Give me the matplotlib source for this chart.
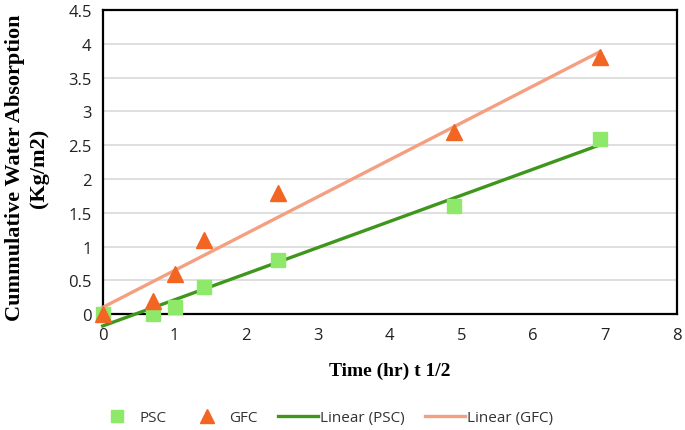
import numpy as np
import matplotlib
matplotlib.use("Agg")
import matplotlib.pyplot as plt
from matplotlib.lines import Line2D

time_sqrt = [0, 0.707, 1.0, 1.414, 2.449, 4.899, 6.928]
psc = [0, 0, 0.1, 0.4, 0.8, 1.6, 2.6]
gfc = [0, 0.2, 0.6, 1.1, 1.8, 2.7, 3.8]
series_names = ["PSC", "GFC", "Linear (PSC)", "Linear (GFC)"]

c_psc = "#8EE86A"
c_gfc = "#F26522"
c_lpsc = "#3F961C"
c_lgfc = "#F4A080"

fig = plt.figure(figsize=(6.85, 4.31), dpi=100)
ax = fig.add_axes([0.150, 0.269, 0.838, 0.705])

x = np.array(time_sqrt)
xs = np.array([x.min(), x.max()])
p1 = np.polyfit(x, psc, 1)
p2 = np.polyfit(x, gfc, 1)
ax.plot(xs, np.polyval(p1, xs), color=c_lpsc, lw=2.4, zorder=3, clip_on=False)
ax.plot(xs, np.polyval(p2, xs), color=c_lgfc, lw=2.4, zorder=3, clip_on=False)
ax.plot(time_sqrt, psc, ls="none", marker="s", ms=10, color=c_psc, zorder=4, clip_on=False)
ax.plot(time_sqrt, gfc, ls="none", marker="^", ms=12, color=c_gfc, zorder=5, clip_on=False)

ax.set_xlim(0, 8)
ax.set_ylim(0, 4.5)
ax.set_xticks(range(0, 9))
yt = np.arange(0, 4.51, 0.5)
ax.set_yticks(yt)
ax.set_yticklabels([("%g" % v) for v in yt])
ax.yaxis.grid(True, color="#D9D9D9", lw=1.2)
ax.set_axisbelow(True)
for s in ax.spines.values():
    s.set_color("black")
    s.set_linewidth(1.6)
ax.tick_params(length=0, labelsize=12, colors="#222222")
ax.tick_params(axis="x", pad=9)
ax.tick_params(axis="y", pad=8)
for lab in ax.get_xticklabels() + ax.get_yticklabels():
    lab.set_family("Open Sans")

ax.set_xlabel("Time (hr) t 1/2", family="Liberation Serif", fontweight="bold", fontsize=14, labelpad=14)
ax.set_ylabel("Cummulative Water Absorption\n(Kg/m2)", family="Liberation Serif", fontweight="bold",
              fontsize=16, linespacing=1.3)
ax.yaxis.set_label_coords(-0.093, 0.484)

handles = [
    Line2D([], [], ls="none", marker="s", ms=9, color=c_psc),
    Line2D([], [], ls="none", marker="^", ms=10, color=c_gfc),
    Line2D([], [], color=c_lpsc, lw=2.4),
    Line2D([], [], color=c_lgfc, lw=2.4),
]
leg = fig.legend(handles, series_names, loc="center", bbox_to_anchor=(0.475, 0.028), ncol=4,
                 frameon=False, prop={"family": "Open Sans", "size": 11}, handlelength=2.6,
                 columnspacing=1.35, handletextpad=0.15)
for t in leg.get_texts():
    t.set_color("#333333")

fig.savefig("out.png", dpi=100)
